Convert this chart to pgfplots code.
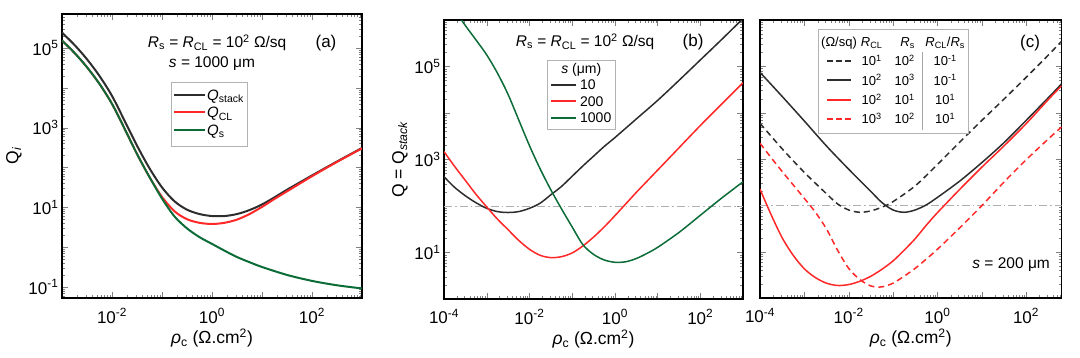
\documentclass[border=0pt]{standalone}
\usepackage{fontspec}
\setmainfont{Liberation Sans}
\usepackage{array}
\usepackage{pgfplots}
\pgfplotsset{compat=1.18}
\definecolor{cblk}{RGB}{45,45,45}
\definecolor{cred}{RGB}{255,40,40}
\definecolor{cgrn}{RGB}{12,108,56}
\definecolor{cdd}{RGB}{175,175,175}
\newcommand{\E}[1]{10\textsuperscript{#1}}
\newcommand{\fs}[1]{\fontsize{#1}{#1}\selectfont}
\newcommand{\dashsample}[1]{\textcolor{#1}{\rule[0.28em]{5.5pt}{2.2pt}\hspace{3.5pt}\rule[0.28em]{5.5pt}{2.2pt}\hspace{3.5pt}\rule[0.28em]{5.5pt}{2.2pt}}}
\newcommand{\lsample}[3]{\textcolor{#1}{\rule[0.28em]{#2}{#3}}}
\newcommand{\rowstrut}[2]{\rule[-#1]{0pt}{#2}}

\begin{document}
\begin{tikzpicture}
\path[use as bounding box] (0,0) rectangle (1080pt,357pt);

% ---------------- (a) ----------------
\begin{axis}[xmode=log, ymode=log, scale only axis, anchor=south west,
  at={(62pt,59pt)}, width=300pt, height=284pt,
  tick align=inside, major tick length=6pt, minor tick length=3pt,
  axis line style={line width=1.1pt},
  tick label style={font=\fs{17}},
  xticklabel style={yshift=-7pt},
  label style={font=\fs{17.5}},
  xlabel style={yshift=1pt},
  xlabel={\textit{ρ}\textsubscript{c} (Ω.cm\textsuperscript{2})},
  minor xtick={2e-3,3e-3,4e-3,5e-3,6e-3,7e-3,8e-3,9e-3,
      0.02,0.03,0.04,0.05,0.06,0.07,0.08,0.09,
      0.2,0.3,0.4,0.5,0.6,0.7,0.8,0.9,
      2,3,4,5,6,7,8,9,20,30,40,50,60,70,80,90,
      200,300,400,500,600,700,800,900},
  minor ytick={0.06,0.07,0.08,0.09,
      0.2,0.3,0.4,0.5,0.6,0.7,0.8,0.9,
      2,3,4,5,6,7,8,9,20,30,40,50,60,70,80,90,
      200,300,400,500,600,700,800,900,
      2000,3000,4000,5000,6000,7000,8000,9000,
      2e4,3e4,4e4,5e4,6e4,7e4,8e4,9e4,
      2e5,3e5,4e5,5e5,6e5,7e5},
  xmin=1e-3, xmax=1e3, ymin=0.0525, ymax=7.2e5,
  xtick={1e-3,1e-2,0.1,1,10,100,1000},
  xticklabels={{},\E{-2},{},\E{0},{},\E{2},{}},
  ytick={0.1,1,10,100,1000,1e4,1e5},
  yticklabels={\E{-1},{},\E{1},{},\E{3},{},\E{5}},
  ylabel={Q\textsubscript{\textit{i}}},
]
\addplot[cblk, smooth, line width=2pt] coordinates {
(1e-3,2.455e5) (1.778e-3,1.202e5) (3.162e-3,5.248e4) (5.623e-3,1.995e4)
(0.01,6310) (0.01778,1514) (0.03162,354.8) (0.05623,95.50)
(0.1,31.62) (0.1778,14.13) (0.3162,8.710) (0.5623,6.761)
(1,6.026) (1.778,6.026) (3.162,6.761) (5.623,8.511)
(10,11.75) (17.78,17.78) (31.62,27.54) (100,63.10) (316.2,141.3) (1000,309.0)};
\addplot[cred, smooth, line width=2pt] coordinates {
(1e-3,1.549e5) (1.778e-3,7.586e4) (3.162e-3,3.311e4) (5.623e-3,1.259e4)
(0.01,3981) (0.01778,955.0) (0.03162,218.8) (0.05623,57.54)
(0.1,18.20) (0.1778,7.943) (0.3162,5.012) (0.5623,4.074)
(1,3.802) (1.778,4.074) (3.162,4.898) (5.623,6.761)
(10,10.23) (17.78,16.22) (31.62,25.12) (100,60.26) (316.2,138.0) (1000,302.0)};
\addplot[cgrn, smooth, line width=2pt] coordinates {
(1e-3,1.549e5) (1.778e-3,7.586e4) (3.162e-3,3.311e4) (5.623e-3,1.259e4)
(0.01,3981) (0.01778,955.0) (0.03162,218.8) (0.05623,57.54)
(0.1,16.60) (0.1778,5.888) (0.3162,2.951) (0.5623,1.778)
(1,1.202) (1.778,0.8128) (3.162,0.5623) (5.623,0.4169)
(10,0.3162) (31.62,0.1995) (100,0.1413) (316.2,0.1096) (1000,0.0912)};
\node[font=\fs{15.5}] at (rel axis cs:0.517,0.898) {\textit{R}\textsubscript{s} = \textit{R}\textsubscript{CL} = \E{2} Ω/sq};
\node[font=\fs{17}] at (rel axis cs:0.88,0.898) {(a)};
\node[font=\fs{15.5}] at (rel axis cs:0.50,0.824) {\textit{s} = 1000 μm};
\node[draw=gray!60, line width=0.6pt, fill=white, anchor=north west, inner xsep=3pt, inner ysep=6pt]
  at (rel axis cs:0.363,0.761) {\fontsize{15}{17}\selectfont
\begin{tabular}{@{}l@{\hspace{2pt}}l@{}}
\rowstrut{5.5pt}{17.5pt}\lsample{cblk}{31pt}{2.4pt} & \textit{Q}\textsubscript{stack}\\
\rowstrut{5.5pt}{17.5pt}\lsample{cred}{31pt}{2.4pt} & \textit{Q}\textsubscript{CL}\\
\rowstrut{5.5pt}{17.5pt}\lsample{cgrn}{31pt}{2.4pt} & \textit{Q}\textsubscript{s}
\end{tabular}};
\end{axis}

% ---------------- (b) ----------------
\begin{axis}[xmode=log, ymode=log, scale only axis, anchor=south west,
  at={(444pt,58pt)}, width=299pt, height=279pt,
  tick align=inside, major tick length=6pt, minor tick length=3pt,
  axis line style={line width=1.1pt},
  tick label style={font=\fs{17}},
  xticklabel style={yshift=-7pt},
  label style={font=\fs{17.5}},
  xlabel style={yshift=1pt},
  xlabel={\textit{ρ}\textsubscript{c} (Ω.cm\textsuperscript{2})},
  minor xtick={2e-4,3e-4,4e-4,5e-4,6e-4,7e-4,8e-4,9e-4,
      2e-3,3e-3,4e-3,5e-3,6e-3,7e-3,8e-3,9e-3,
      0.02,0.03,0.04,0.05,0.06,0.07,0.08,0.09,
      0.2,0.3,0.4,0.5,0.6,0.7,0.8,0.9,
      2,3,4,5,6,7,8,9,20,30,40,50,60,70,80,90,
      200,300,400,500,600,700,800,900},
  minor ytick={2,3,4,5,6,7,8,9,20,30,40,50,60,70,80,90,
      200,300,400,500,600,700,800,900,
      2000,3000,4000,5000,6000,7000,8000,9000,
      2e4,3e4,4e4,5e4,6e4,7e4,8e4,9e4,
      2e5,3e5,4e5,5e5,6e5,7e5,8e5,9e5},
  xmin=1e-4, xmax=1e3, ymin=1, ymax=1e6,
  xtick={1e-4,1e-3,1e-2,0.1,1,10,100,1000},
  xticklabels={\E{-4},{},\E{-2},{},\E{0},{},\E{2},{}},
  ytick={1,10,100,1000,1e4,1e5,1e6},
  yticklabels={{},\E{1},{},\E{3},{},\E{5},{}},
  ylabel={Q = Q\textsubscript{\textit{stack}}},
]
\addplot[cdd, line width=1pt, dash pattern=on 8pt off 3pt on 1.5pt off 3pt] coordinates {(1e-4,100) (1e3,100)};
\addplot[cblk, smooth, line width=1.5pt] coordinates {
(1e-4,426.6) (1.778e-4,251.2) (3.162e-4,166.0) (5.623e-4,117.5)
(1e-3,89.13) (1.778e-3,75.86) (3.162e-3,72.44) (5.623e-3,75.86)
(0.01,89.13) (0.01778,114.8) (0.03162,173.8) (0.05623,263.0)
(0.1,436.5) (0.1778,724.4) (0.3162,1175) (0.5623,1905)
(1,2951) (3.162,7413) (10,1.862e4) (31.62,5.012e4) (100,1.380e5) (316.2,3.802e5) (1000,1.072e6)};
\addplot[cred, smooth, line width=1.5pt] coordinates {
(1e-4,1479) (1.778e-4,707.9) (3.162e-4,354.8) (5.623e-4,177.8)
(1e-3,95.50) (1.778e-3,52.48) (3.162e-3,30.90) (5.623e-3,18.20)
(0.01,11.75) (0.01778,8.710) (0.03162,7.762) (0.05623,8.128)
(0.1,9.772) (0.1778,13.80) (0.3162,21.38) (0.5623,35.48)
(1,61.66) (3.162,195.0) (10,588.8) (31.62,1778) (100,5370) (316.2,1.549e4) (1000,4.467e4)};
\addplot[cgrn, smooth, line width=1.5pt] coordinates {
(2.239e-4,1.202e6) (3.162e-4,7.586e5) (5.623e-4,3.715e5)
(1e-3,1.778e5) (1.778e-3,7.244e4) (3.162e-3,2.512e4) (5.623e-3,7079)
(0.01,1995) (0.01778,631.0) (0.03162,223.9) (0.05623,87.10)
(0.1,35.48) (0.1778,14.79) (0.3162,9.120) (0.5623,6.918)
(1,6.166) (1.778,6.310) (3.162,7.413) (5.623,9.550)
(10,12.88) (31.62,26.92) (100,63.10) (316.2,147.9) (1000,331.1)};
\node[font=\fs{15.5}] at (rel axis cs:0.472,0.921) {\textit{R}\textsubscript{s} = \textit{R}\textsubscript{CL} = \E{2} Ω/sq};
\node[font=\fs{17}] at (rel axis cs:0.833,0.921) {(b)};
\node[draw=gray!60, line width=0.6pt, fill=white, anchor=north west, inner xsep=4pt, inner ysep=1.5pt]
  at (rel axis cs:0.344,0.857) {\fontsize{14}{16.5}\selectfont
\begin{tabular}{@{}l@{\hspace{4pt}}l@{}}
\multicolumn{2}{@{}c@{}}{\rowstrut{5pt}{16.5pt}\textit{s} (μm)}\\
\rowstrut{5pt}{16.5pt}\lsample{cblk}{25pt}{2.2pt} & 10\\
\rowstrut{5pt}{16.5pt}\lsample{cred}{25pt}{2.2pt} & 200\\
\rowstrut{5pt}{16.5pt}\lsample{cgrn}{25pt}{2.2pt} & 1000
\end{tabular}};
\end{axis}

% ---------------- (c) ----------------
\begin{axis}[xmode=log, ymode=log, scale only axis, anchor=south west,
  at={(760pt,59pt)}, width=301.5pt, height=278pt,
  tick align=inside, major tick length=6pt, minor tick length=3pt,
  axis line style={line width=1.1pt},
  tick label style={font=\fs{17}},
  xticklabel style={yshift=-7pt},
  label style={font=\fs{17.5}},
  xlabel style={yshift=1pt},
  xlabel={\textit{ρ}\textsubscript{c} (Ω.cm\textsuperscript{2})},
  minor xtick={2e-4,3e-4,4e-4,5e-4,6e-4,7e-4,8e-4,9e-4,
      2e-3,3e-3,4e-3,5e-3,6e-3,7e-3,8e-3,9e-3,
      0.02,0.03,0.04,0.05,0.06,0.07,0.08,0.09,
      0.2,0.3,0.4,0.5,0.6,0.7,0.8,0.9,
      2,3,4,5,6,7,8,9,20,30,40,50,60,70,80,90,
      200,300,400,500,600},
  minor ytick={2,3,4,5,6,7,8,9,20,30,40,50,60,70,80,90,
      200,300,400,500,600,700,800,900,
      2000,3000,4000,5000,6000,7000,8000,9000,
      2e4,3e4,4e4,5e4,6e4,7e4,8e4,9e4,
      2e5,3e5,4e5,5e5,6e5,7e5,8e5,9e5},
  xmin=1e-4, xmax=631, ymin=1, ymax=1e6,
  xtick={1e-4,1e-3,1e-2,0.1,1,10,100},
  xticklabels={\E{-4},{},\E{-2},{},\E{0},{},\E{2}},
  ytick={1,10,100,1000,1e4,1e5,1e6},
  yticklabels={},
]
\addplot[cdd, line width=1pt, dash pattern=on 8pt off 3pt on 1.5pt off 3pt] coordinates {(1e-4,100) (631,100)};
\addplot[cblk, smooth, line width=1.5pt, dash pattern=on 6pt off 4pt] coordinates {
(1e-4,5888) (3.162e-4,1660) (1e-3,512.9) (3.162e-3,177.8) (5.623e-3,107.2)
(0.01,79.43) (0.01778,70.79) (0.03162,75.86) (0.05623,91.20)
(0.1,120.2) (0.3162,263.0) (1,758.6) (3.162,2291) (10,6761)
(31.62,1.950e4) (100,5.754e4) (316.2,1.738e5) (631,3.467e5)};
\addplot[cblk, smooth, line width=1.5pt] coordinates {
(1e-4,7.413e4) (3.162e-4,2.239e4) (1e-3,6607) (3.162e-3,1905)
(0.01,602.6) (0.03162,199.5) (0.05623,114.8)
(0.1,79.43) (0.1778,70.79) (0.3162,79.43) (0.5623,102.3)
(1,147.9) (3.162,331.1) (10,831.8) (31.62,2239) (100,6761) (316.2,2.089e4) (631,4.169e4)};
\addplot[cred, smooth, line width=1.5pt] coordinates {
(1e-4,223.9) (1.778e-4,63.10) (3.162e-4,19.95) (5.623e-4,8.318)
(1e-3,4.266) (1.778e-3,2.754) (3.162e-3,2.089) (5.623e-3,1.862)
(0.01,1.950) (0.01778,2.291) (0.03162,2.951) (0.05623,4.169)
(0.1,6.310) (0.1778,10.72) (0.3162,19.05) (0.5623,37.15)
(1,69.18) (3.162,218.8) (10,660.7) (31.62,1905) (100,5754) (316.2,1.905e4) (631,3.802e4)};
\addplot[cred, smooth, line width=1.5pt, dash pattern=on 6pt off 4pt] coordinates {
(1e-4,2188) (1.778e-4,1072) (3.162e-4,537.0) (5.623e-4,275.4)
(1e-3,141.3) (1.778e-3,70.79) (3.162e-3,30.90) (5.623e-3,10.72)
(0.01,4.365) (0.01778,2.512) (0.03162,1.820) (0.05623,1.738)
(0.1,2.089) (0.1778,2.951) (0.3162,4.365) (0.5623,6.918)
(1,11.22) (3.162,32.36) (10,97.72) (31.62,316.2) (100,955.0) (316.2,2692) (631,4898)};
\node[font=\fs{17}] at (rel axis cs:0.896,0.917) {(c)};
\node[font=\fs{15.5}] at (rel axis cs:0.833,0.119) {\textit{s} = 200 μm};
\node[draw=gray!60, line width=0.6pt, fill=white, anchor=north west, inner xsep=3pt, inner ysep=4pt]
  at (rel axis cs:0.192,0.968) {\fontsize{13}{19}\selectfont
\begin{tabular}{@{}c@{\hspace{4pt}}c@{\hspace{12pt}}c@{\hspace{7pt}}!{\color{gray!70}\vrule width 0.6pt}@{\hspace{3pt}}c@{}}
\rowstrut{6pt}{19pt}(Ω/sq) & \textit{R}\textsubscript{CL} & \multicolumn{1}{c@{\hspace{10.6pt}}}{\textit{R}\textsubscript{s}} & \textit{R}\textsubscript{CL}/\textit{R}\textsubscript{s}\\
\rowstrut{6pt}{19pt}\dashsample{cblk} & \E{1} & \E{2} & \E{-1}\\
\rowstrut{6pt}{19pt}\lsample{cblk}{24pt}{2.2pt} & \E{2} & \E{3} & \E{-1}\\
\rowstrut{6pt}{19pt}\lsample{cred}{24pt}{2.2pt} & \E{2} & \E{1} & \E{1}\\
\rowstrut{6pt}{19pt}\dashsample{cred} & \E{3} & \E{2} & \E{1}
\end{tabular}};
\end{axis}
\end{tikzpicture}
\end{document}
